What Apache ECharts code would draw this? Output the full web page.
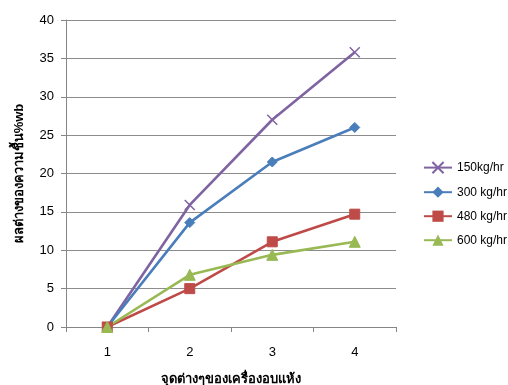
<!DOCTYPE html>
<html>
<head>
<meta charset="utf-8">
<script src="https://cdn.jsdelivr.net/npm/echarts@6/dist/echarts.min.js"></script>
<style>
  html, body { margin: 0; padding: 0; background: #fff; }
  #chart { width: 508px; height: 385px; }
</style>
</head>
<body>
<div id="chart"></div>
<script>
// Measurement points along the dryer
const categories = ['1', '2', '3', '4'];

// Moisture difference (%wb) per feed rate
const rate150 = [0, 15.9, 27.0, 35.8];
const rate300 = [0, 13.6, 21.5, 26.0];
const rate480 = [0, 5.0, 11.1, 14.7];
const rate600 = [0, 6.8, 9.4, 11.1];

const seriesNames = ['150kg/hr', '300 kg/hr', '480 kg/hr', '600 kg/hr'];
const yTicks = { min: 0, max: 40, interval: 5 };

const font = '"Liberation Sans", "Noto Sans", "DejaVu Sans", sans-serif';

function line(name, data, color, symbol, size, itemStyle) {
  return {
    name: name,
    type: 'line',
    data: data,
    symbol: symbol,
    symbolSize: size,
    lineStyle: { color: color, width: 2.6 },
    itemStyle: itemStyle || { color: color, borderColor: color },
    emphasis: { disabled: true },
    animation: false
  };
}

// stroke-only cross marker for the 150 kg/hr line
const crossPath = 'path://M0,0 L10,10 M10,0 L0,10';

const chart = echarts.init(document.getElementById('chart'));
chart.setOption({
  backgroundColor: '#ffffff',
  textStyle: { fontFamily: font },
  grid: { left: 66, right: 112, top: 20, bottom: 58, containLabel: false, outerBoundsMode: 'none' },
  legend: {
    orient: 'vertical',
    left: 418,
    top: 156,
    itemGap: 12,
    itemWidth: 28,
    itemHeight: 14,
    textStyle: { fontSize: 12, color: '#000', fontFamily: font },
    data: seriesNames
  },
  xAxis: {
    type: 'category',
    data: categories,
    boundaryGap: true,
    name: 'จุดต่างๆของเครื่องอบแห้ง',
    nameLocation: 'middle',
    nameGap: 46,
    nameTextStyle: { fontSize: 13, fontWeight: 'bold', color: '#000' },
    axisLine: { lineStyle: { color: '#868686', width: 1 } },
    axisTick: { show: true, alignWithLabel: false, length: 5, lineStyle: { color: '#868686' } },
    axisLabel: { fontSize: 13, color: '#000', margin: 19 }
  },
  yAxis: {
    type: 'value',
    min: yTicks.min,
    max: yTicks.max,
    interval: yTicks.interval,
    name: 'ผลต่างของความชื้น%wb',
    nameLocation: 'middle',
    nameRotate: 90,
    nameGap: 40,
    nameTextStyle: { fontSize: 13, fontWeight: 'bold', color: '#000' },
    axisLine: { show: true, lineStyle: { color: '#868686', width: 1 } },
    axisTick: { show: true, length: 5, lineStyle: { color: '#868686' } },
    axisLabel: { fontSize: 13, color: '#000', margin: 12 },
    splitLine: { lineStyle: { color: '#8c8c8c', width: 1 } }
  },
  series: [
    line(seriesNames[0], rate150, '#8064A2', crossPath, 10,
         { color: 'transparent', borderColor: '#8064A2', borderWidth: 1.5 }),
    line(seriesNames[1], rate300, '#4A7EBB', 'diamond', 10),
    line(seriesNames[2], rate480, '#BE4B48', 'rect', 10),
    line(seriesNames[3], rate600, '#98B954', 'triangle', 11)
  ]
});
</script>
</body>
</html>
